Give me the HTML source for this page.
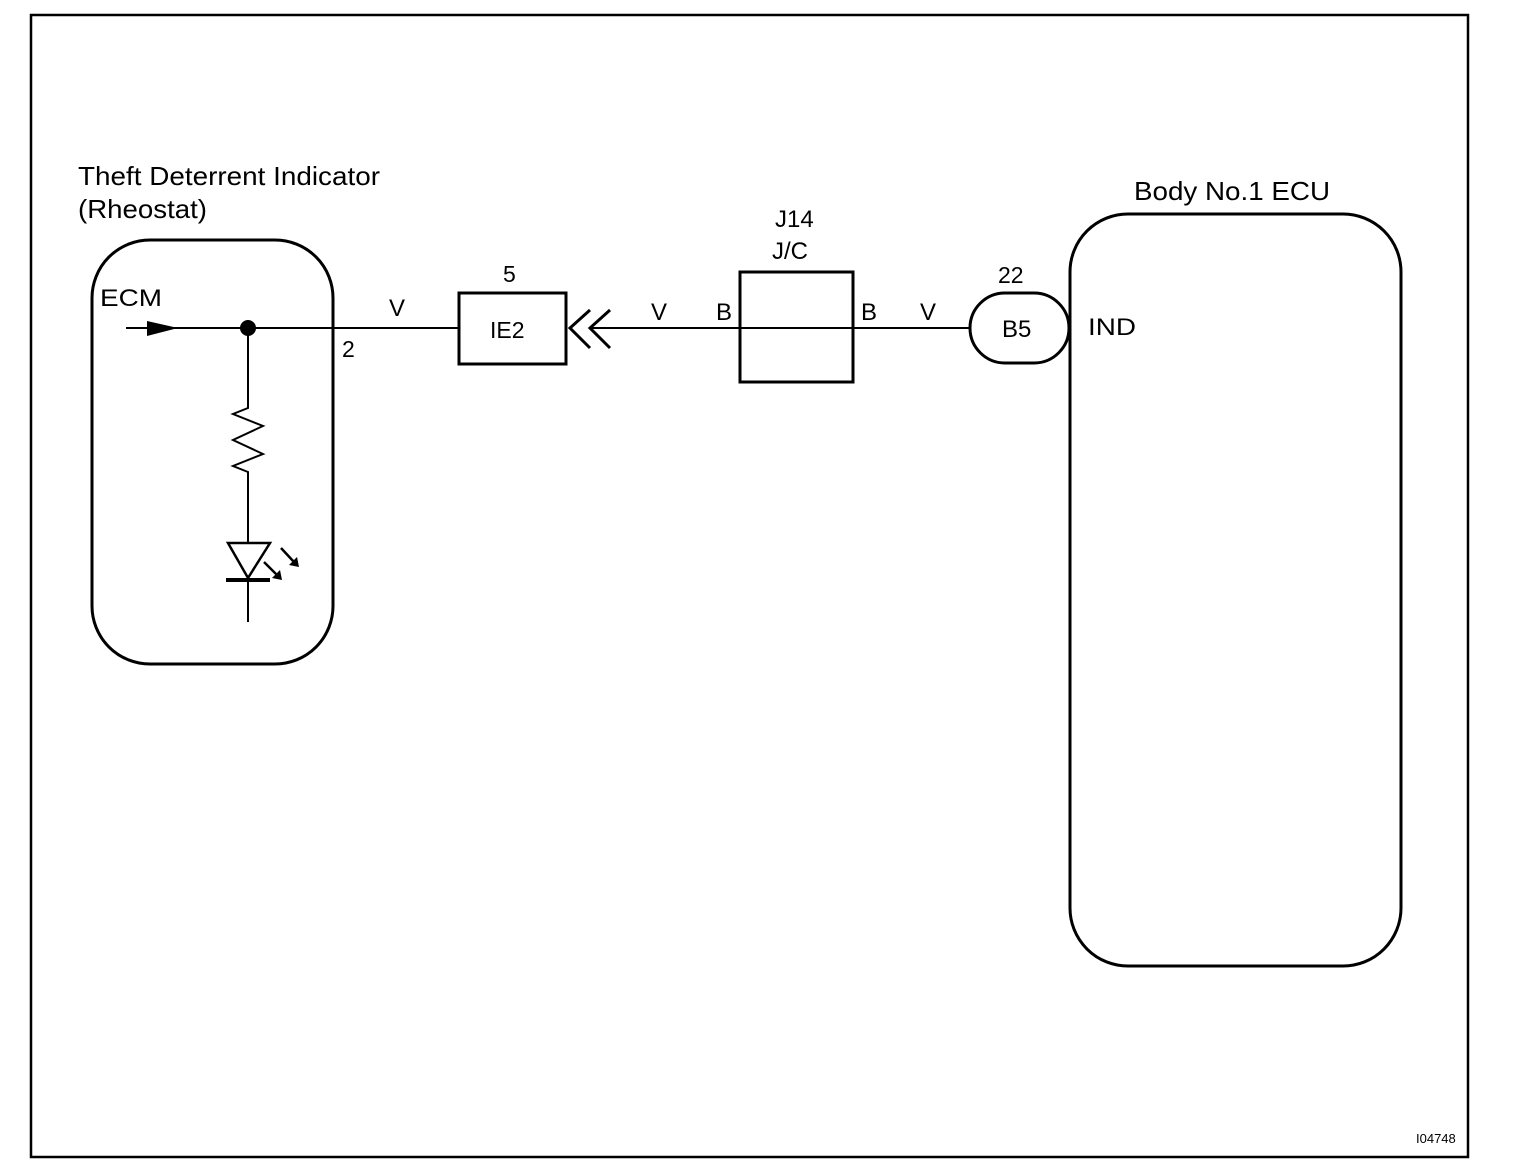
<!DOCTYPE html>
<html><head><meta charset="utf-8"><style>
body{margin:0;background:#fff;}
svg{display:block;}
text{font-family:"Liberation Sans",Arial,sans-serif;fill:#000;}
</style></head><body>
<svg width="1520" height="1174" viewBox="0 0 1520 1174" xmlns="http://www.w3.org/2000/svg">
<rect x="31" y="15" width="1437" height="1142" fill="none" stroke="#000" stroke-width="2.5"/>
<text x="78" y="185" font-size="26" textLength="302" lengthAdjust="spacingAndGlyphs">Theft Deterrent Indicator</text>
<text x="78" y="218" font-size="26" textLength="129" lengthAdjust="spacingAndGlyphs">(Rheostat)</text>
<rect x="92" y="240" width="241" height="424" rx="58" fill="none" stroke="#000" stroke-width="3"/>
<text x="100" y="306" font-size="24" textLength="62" lengthAdjust="spacingAndGlyphs">ECM</text>
<line x1="126" y1="328" x2="459" y2="328" stroke="#000" stroke-width="2"/>
<polygon points="147,321 178,328 147,336" fill="#000"/>
<circle cx="248" cy="328" r="8" fill="#000"/>
<polyline points="248,328 248,408 233,414 263,426 233,440 263,454 233,466 248,472 248,543" fill="none" stroke="#000" stroke-width="2"/>
<polygon points="228,543 270,543 248,578" fill="none" stroke="#000" stroke-width="2.5"/>
<line x1="226" y1="580" x2="270" y2="580" stroke="#000" stroke-width="4"/>
<line x1="248" y1="580" x2="248" y2="622" stroke="#000" stroke-width="2"/>
<line x1="264" y1="562" x2="278" y2="576" stroke="#000" stroke-width="2.5"/>
<polygon points="282,580 272,578 280,570" fill="#000"/>
<line x1="281" y1="548" x2="294" y2="562" stroke="#000" stroke-width="2.5"/>
<polygon points="299,567 289,565 297,557" fill="#000"/>
<text x="342" y="357" font-size="23">2</text>
<text x="389" y="316" font-size="24">V</text>
<text x="503" y="282" font-size="23">5</text>
<rect x="459" y="293" width="107" height="71" fill="none" stroke="#000" stroke-width="3"/>
<text x="490" y="338" font-size="23">IE2</text>
<polyline points="590,310 570,328 590,348" fill="none" stroke="#000" stroke-width="3"/>
<polyline points="610,310 590,328 610,348" fill="none" stroke="#000" stroke-width="3"/>
<line x1="592" y1="328" x2="970" y2="328" stroke="#000" stroke-width="2"/>
<text x="651" y="320" font-size="24">V</text>
<text x="716" y="320" font-size="24">B</text>
<text x="775" y="227" font-size="24">J14</text>
<text x="772" y="259" font-size="24">J/C</text>
<rect x="740" y="272" width="113" height="110" fill="none" stroke="#000" stroke-width="3"/>
<text x="861" y="320" font-size="24">B</text>
<text x="920" y="320" font-size="24">V</text>
<text x="998" y="283" font-size="23">22</text>
<rect x="970" y="293" width="99" height="70" rx="35" fill="none" stroke="#000" stroke-width="3"/>
<text x="1002" y="337" font-size="24">B5</text>
<text x="1134" y="200" font-size="26" textLength="196" lengthAdjust="spacingAndGlyphs">Body No.1 ECU</text>
<rect x="1070" y="214" width="331" height="752" rx="58" fill="none" stroke="#000" stroke-width="3"/>
<text x="1088" y="335" font-size="24" textLength="48" lengthAdjust="spacingAndGlyphs">IND</text>
<text x="1416" y="1143" font-size="13">I04748</text>
</svg>
</body></html>
